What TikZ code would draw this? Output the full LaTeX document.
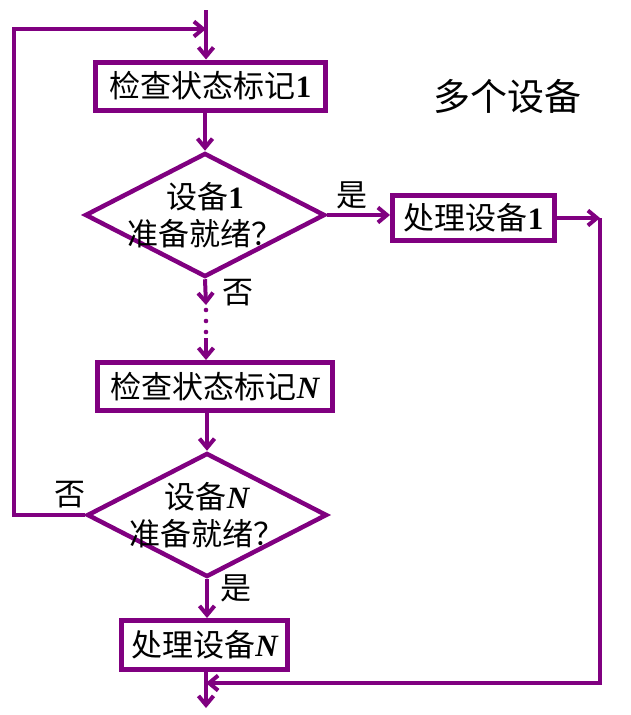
\documentclass[tikz,border=0pt]{standalone}
\usepackage{fontspec}
\setmainfont{Liberation Serif}
\newfontfamily\cjk{Noto Sans CJK SC}
\usepackage{tikz}
\usetikzlibrary{positioning, arrows.meta, shapes.geometric}
\definecolor{FlowPurple}{HTML}{800080}
\newcommand{\devno}[1]{{\rmfamily\bfseries #1}}
\newcommand{\devN}{{\rmfamily\bfseries\itshape N}}

\begin{document}
\begin{tikzpicture}[
            x=1pt, y=-1pt,
            font=\cjk\fontsize{31}{37}\selectfont,
            box/.style={draw=FlowPurple, line width=5pt, fill=white, inner sep=0pt, minimum height=48pt, align=center},
            decision/.style={diamond, aspect=1.94, draw=FlowPurple, line width=4.5pt, inner sep=-16pt, minimum width=240pt, minimum height=124pt, align=center},
            arrow/.style={-{Straight Barb[length=9pt, width=15pt]}, line width=4pt, FlowPurple},
            line/.style={line width=4pt, FlowPurple}
        ]
            \useasboundingbox (0,0) rectangle (630,715);

            \node[box, minimum width=230pt] (chk1) at (210.5,86) {检查状态标记\devno{1}};
            \node[decision] (dec1) at (205,215) {设备\devno{1}\\准备就绪？};
            \node[box, minimum width=162pt, minimum height=45pt] (proc1) at (473.5,218) {处理设备\devno{1}};
            \node[box, minimum width=235pt] (chkN) at (215,386.5) {检查状态标记\devN};
            \node[decision] (decN) at (207,515) {设备\devN\\准备就绪？};
            \node[box, minimum width=166pt, minimum height=49pt] (procN) at (204.5,645) {处理设备\devN};

            \node[font=\cjk\fontsize{37}{42}\selectfont] (title) at (507,96) {多个设备};
            \node (yes1) at (352,195) {是};
            \node (no1) at (238,293) {否};
            \node (noN) at (70,495) {否};
            \node (yesN) at (236,588) {是};

            \coordinate (entry) at (206,10);
            \coordinate (loopin) at (206,29);
            \coordinate (loopcorner) at (14,29);
            \coordinate (dotstop) at (206,305);
            \coordinate (dotstart) at (206,338);
            \coordinate (rcorner) at (600,218);
            \coordinate (join) at (206,683);
            \coordinate (exit) at (206,708);

            \draw[arrow] (entry) -- (entry |- chk1.north);
            \draw[arrow] (decN.west) -| (loopcorner) -- (loopin);
            \draw[arrow] (chk1.south -| dec1.north) -- (dec1.north);
            \draw[arrow] (dec1.east) -- (dec1.east -| proc1.west);
            \draw[arrow] (proc1.east) -- (rcorner);
            \draw[arrow] (rcorner) |- (join);
            \draw[arrow] (dec1.south) -- (dotstop);
            \foreach \y in {310,321,332}
                \fill[FlowPurple] (206,\y) circle (2.3pt);
            \draw[arrow] (dotstart) -- (dotstart |- chkN.north);
            \draw[arrow] (chkN.south -| decN.north) -- (decN.north);
            \draw[arrow] (decN.south) -- (decN.south |- procN.north);
            \draw[arrow] (procN.south -| join) -- (exit);

        \end{tikzpicture}
\end{document}
